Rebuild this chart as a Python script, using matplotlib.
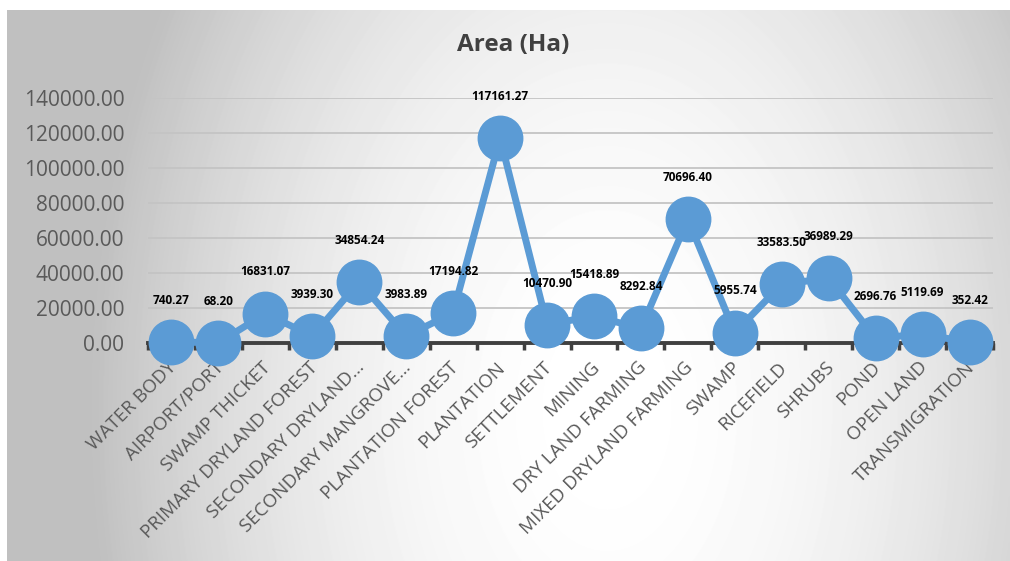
import numpy as np
import matplotlib.pyplot as plt
import matplotlib.transforms as mtransforms

plt.rcParams['font.family'] = ['Open Sans', 'DejaVu Sans']

# land cover categories and their area (Ha)
categories = ['WATER BODY', 'AIRPORT/PORT', 'SWAMP THICKET', 'PRIMARY DRYLAND FOREST',
              'SECONDARY DRYLAND…', 'SECONDARY MANGROVE…', 'PLANTATION FOREST',
              'PLANTATION', 'SETTLEMENT', 'MINING', 'DRY LAND FARMING',
              'MIXED DRYLAND FARMING', 'SWAMP', 'RICEFIELD', 'SHRUBS', 'POND',
              'OPEN LAND', 'TRANSMIGRATION']
area = [740.27, 68.20, 16831.07, 3939.30, 34854.24, 3983.89, 17194.82,
        117161.27, 10470.90, 15418.89, 8292.84, 70696.40, 5955.74,
        33583.50, 36989.29, 2696.76, 5119.69, 352.42]
yticks = [0, 20000, 40000, 60000, 80000, 100000, 120000, 140000]

W, H = 1010, 561
fig = plt.figure(figsize=(W / 100, H / 100), dpi=100)

# radial grey gradient behind the chart
bg = fig.add_axes([7 / W, 0, 1 - 7 / W, 1 - 10 / H])
bg.set_axis_off()
yy, xx = np.mgrid[0:551, 0:1003]
cx, cy = 600, 400
t = np.sqrt(((xx - cx) / 520.0) ** 2 + ((yy - cy) / 800.0) ** 2)
t = np.clip(t, 0, 1)
shade = 1.0 - 0.25 * t ** 2
bg.imshow(shade, cmap='gray', vmin=0, vmax=1, aspect='auto',
          extent=[0, 1, 0, 1], origin='upper', interpolation='bilinear')
bg.set_xlim(0, 1)
bg.set_ylim(0, 1)

ax = fig.add_axes([148 / W, 218 / H, (993 - 148) / W, (343 - 98) / H])
ax.patch.set_alpha(0)

x = np.arange(len(categories))
ax.plot(x, area, color='#5B9BD5', lw=5, marker='o', ms=32,
        solid_capstyle='round', clip_on=False, zorder=5)

for xi, v in zip(x, area):
    ax.annotate('%.2f' % v, xy=(xi, v), xytext=(0, 30), textcoords='offset points',
                ha='center', va='center', fontsize=8.5, fontweight='bold',
                color='black', zorder=6)

ax.set_xlim(-0.5, len(categories) - 0.5)
ax.set_ylim(0, 140000)
ax.set_yticks(yticks)
ax.set_yticklabels(['%.2f' % v for v in yticks])
ax.yaxis.grid(True, color='#C4C4C4', lw=1.3)
ax.set_axisbelow(True)
ax.tick_params(axis='y', length=0, pad=17, labelsize=15, labelcolor='#595959')

ax.set_xticks(x)
ax.set_xticklabels(categories, rotation=45, ha='right', rotation_mode='anchor')
ax.set_xticks(np.arange(len(categories) + 1) - 0.5, minor=True)
ax.tick_params(axis='x', which='major', length=0, pad=11, labelsize=13.5,
               labelcolor='#595959')
ax.tick_params(axis='x', which='minor', length=5, width=2.5, color='#404040')
shift = mtransforms.ScaledTranslation(-4 / 100, 0, fig.dpi_scale_trans)
for lab in ax.get_xticklabels():
    lab.set_transform(lab.get_transform() + shift)

for s in ['top', 'right', 'left']:
    ax.spines[s].set_visible(False)
ax.spines['bottom'].set_color('#404040')
ax.spines['bottom'].set_linewidth(2.8)

fig.text(513 / W, 1 - 45 / H, 'Area (Ha)', ha='center', va='center',
         fontsize=17.5, fontweight='bold', color='#404040')

fig.savefig('out.png', dpi=100)
